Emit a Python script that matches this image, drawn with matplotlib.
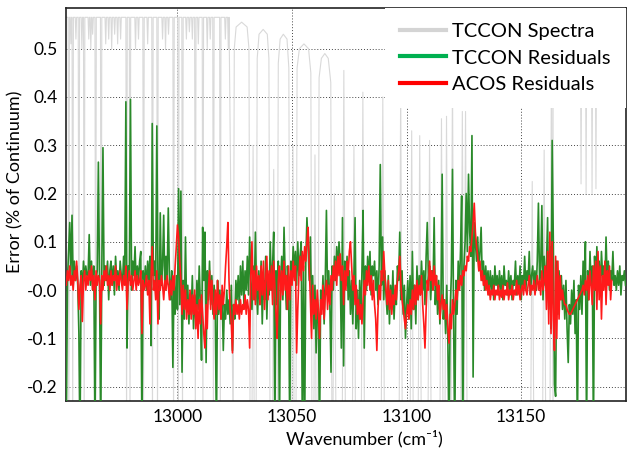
import numpy as np
import matplotlib
matplotlib.use("Agg")
import matplotlib.pyplot as plt
from matplotlib.lines import Line2D

plt.rcParams['font.family'] = ['Lato', 'DejaVu Sans']

# residuals sampled every 0.5 cm-1 from 12951.0
wn_start = 12951.0
wn_step = 0.5

green_y = [
    0.04, -0.30, 0.02, 0.08, 0.14, 0.03, 0.155, 0.01, 0.06, 0.02,
    0.05, 0.01, -0.09, -0.30, 0.04, 0.00, 0.06, 0.02, 0.05, 0.03,
    0.03, 0.115, 0.01, 0.06, 0.00, 0.05, -0.30, 0.02, 0.04, 0.265,
    0.02, -0.30, 0.04, 0.295, 0.01, 0.05, 0.02, 0.06, -0.02, 0.04,
    0.06, 0.01, 0.05, -0.01, 0.07, 0.02, 0.04, 0.00, 0.06, 0.03,
    0.01, 0.07, 0.02, 0.39, -0.12, 0.05, 0.02, 0.395, 0.00, 0.06,
    0.03, 0.09, 0.01, 0.05, 0.02, 0.06, 0.08, -0.30, 0.04, 0.01,
    0.05, 0.00, 0.06, 0.02, 0.07, -0.115, 0.345, 0.03, 0.06, 0.01,
    0.34, 0.02, -0.06, 0.16, 0.01, 0.05, 0.155, 0.00, 0.07, 0.02,
    0.17, 0.03, -0.02, 0.04, -0.16, 0.02, -0.05, 0.03, -0.04, 0.21,
    -0.03, 0.205, -0.17, 0.02, -0.06, 0.11, -0.04, 0.01, -0.07, -0.01,
    -0.05, 0.03, -0.08, -0.01, -0.06, 0.02, -0.04, 0.05, -0.03, -0.145,
    0.13, 0.02, 0.12, -0.15, 0.04, -0.02, 0.06, -0.03, 0.03, -0.05,
    0.01, -0.04, -0.30, 0.02, -0.05, 0.00, -0.06, -0.01, -0.125, -0.03,
    -0.06, 0.00, -0.05, -0.02, -0.07, 0.01, -0.125, -0.03, -0.06, 0.02,
    -0.02, 0.03, -0.04, 0.05, -0.01, 0.06, -0.03, 0.04, 0.00, 0.07,
    -0.01, 0.11, 0.02, -0.04, 0.05, -0.02, 0.12, 0.00, -0.05, 0.04,
    -0.03, 0.06, -0.07, 0.02, -0.02, 0.07, -0.06, 0.03, -0.01, 0.10,
    0.00, 0.05, 0.12, -0.30, 0.04, -0.03, 0.06, -0.30, 0.02, 0.07,
    -0.02, 0.13, 0.03, -0.04, 0.05, 0.01, -0.30, 0.06, 0.02, 0.09,
    0.04, 0.08, 0.01, 0.10, 0.03, 0.07, 0.10, -0.30, 0.05, -0.30,
    0.06, 0.15, 0.09, 0.02, 0.11, -0.04, 0.03, -0.08, 0.01, -0.13,
    -0.02, -0.06, -0.30, 0.00, -0.04, 0.03, -0.07, 0.02, 0.165, -0.01,
    0.04, -0.03, -0.17, 0.05, 0.00, 0.07, 0.02, 0.09, 0.04, 0.10,
    0.05, -0.12, 0.15, -0.157, 0.06, 0.01, 0.07, -0.02, 0.04, -0.05,
    0.02, -0.07, 0.03, 0.15, -0.08, 0.00, -0.10, 0.02, -0.06, 0.04,
    0.165, -0.12, 0.05, 0.00, 0.07, 0.02, 0.08, -0.01, 0.05, 0.03,
    0.06, 0.00, 0.04, -0.03, 0.05, 0.26, 0.01, 0.11, -0.02, 0.04,
    -0.01, -0.05, 0.03, -0.07, 0.01, -0.04, 0.04, -0.06, 0.00, -0.03,
    0.05, 0.02, 0.12, -0.02, 0.04, -0.05, 0.01, -0.10, -0.03, 0.02,
    -0.06, 0.03, -0.08, 0.08, -0.04, 0.01, -0.07, 0.05, -0.02, 0.03,
    -0.01, 0.06, 0.00, 0.04, -0.03, 0.07, 0.14, 0.02, 0.05, -0.02,
    0.04, 0.00, 0.15, -0.03, 0.03, -0.05, 0.02, -0.07, -0.02, 0.24,
    -0.06, -0.02, -0.09, 0.01, -0.11, -0.30, -0.04, 0.03, 0.25, -0.07,
    -0.30, 0.02, -0.05, 0.06, 0.00, 0.08, 0.195, -0.30, 0.05, 0.10,
    0.20, 0.08, 0.24, 0.12, 0.07, 0.32, -0.18, 0.14, 0.10, 0.06,
    0.11, 0.04, 0.08, 0.13, 0.02, 0.06, 0.00, 0.05, 0.01, 0.04,
    -0.01, 0.04, 0.00, 0.03, -0.02, 0.05, 0.01, 0.03, -0.01, 0.04,
    0.00, 0.03, -0.02, 0.05, 0.01, 0.02, -0.01, 0.04, 0.00, 0.03,
    -0.02, 0.02, 0.01, 0.06, -0.01, 0.03, 0.00, 0.05, -0.02, 0.03,
    0.01, 0.07, 0.00, 0.04, 0.02, 0.08, -0.01, 0.03, 0.05, 0.01,
    0.04, 0.00, 0.06, 0.18, 0.02, 0.05, 0.175, -0.02, 0.07, 0.01,
    0.05, 0.15, -0.04, 0.09, -0.08, 0.31, 0.10, -0.195, -0.22, 0.06,
    -0.05, 0.04, -0.02, 0.03, -0.04, 0.01, -0.06, 0.02, -0.08, -0.15,
    -0.03, -0.07, 0.00, -0.05, 0.02, -0.09, -0.02, -0.30, 0.01, -0.04,
    0.03, -0.05, 0.06, 0.00, 0.10, -0.30, 0.04, -0.02, 0.08, 0.01,
    0.05, -0.30, 0.07, 0.00, 0.09, 0.02, 0.06, -0.01, 0.08, 0.03,
    0.05, 0.01, 0.11, 0.02, 0.06, 0.00, 0.04, 0.02, 0.08, 0.01,
    0.03, 0.00, 0.04, 0.01, 0.05, -0.01, 0.03, 0.02, 0.04, 0.01,
]

red_y = [
    0.03, 0.01, 0.04, 0.02, 0.05, 0.01, 0.03, 0.00, 0.04, 0.02,
    0.06, 0.02, -0.04, 0.01, 0.03, -0.065, 0.02, 0.04, 0.00, 0.03,
    0.01, 0.04, 0.02, 0.05, 0.00, 0.03, -0.02, 0.04, 0.01, 0.03,
    0.02, -0.07, 0.03, 0.00, 0.04, 0.02, 0.05, 0.01, 0.03, 0.00,
    0.04, 0.01, 0.03, 0.02, 0.05, 0.00, 0.03, 0.01, 0.04, 0.02,
    0.00, 0.03, 0.01, 0.05, -0.04, 0.02, 0.04, 0.01, 0.03, 0.00,
    0.02, 0.04, 0.00, 0.03, 0.01, 0.02, 0.04, -0.09, 0.02, 0.00,
    0.01, 0.03, -0.01, 0.02, -0.07, 0.03, 0.09, 0.00, 0.02, -0.02,
    0.04, -0.07, 0.02, 0.00, 0.03, 0.01, -0.02, 0.02, 0.00, 0.03,
    0.01, -0.02, 0.02, -0.01, 0.03, 0.00, 0.05, 0.09, 0.135, 0.11,
    0.06, 0.02, -0.05, 0.01, -0.04, 0.00, -0.06, -0.02, -0.05, 0.00,
    -0.06, -0.01, -0.05, 0.00, -0.08, -0.03, -0.10, -0.02, -0.07, -0.01,
    -0.05, -0.09, -0.12, -0.03, -0.08, 0.00, 0.04, -0.04, 0.02, -0.03,
    -0.06, 0.00, -0.05, 0.02, -0.04, -0.01, -0.06, 0.01, -0.03, 0.00,
    0.05, 0.09, 0.14, 0.02, -0.04, -0.07, -0.13, -0.03, -0.05, -0.02,
    -0.05, -0.03, -0.06, -0.02, -0.05, -0.03, -0.04, -0.01, -0.05, -0.02,
    -0.04, -0.12, 0.03, 0.10, -0.02, 0.04, -0.03, 0.05, 0.00, 0.03,
    -0.03, 0.05, -0.01, 0.06, -0.04, 0.02, 0.07, -0.02, 0.04, 0.00,
    0.05, -0.03, 0.06, 0.01, -0.05, -0.10, 0.02, 0.05, -0.02, 0.04,
    -0.01, 0.06, 0.00, 0.03, -0.04, 0.05, -0.02, 0.04, 0.01, 0.06,
    0.02, 0.05, -0.13, -0.04, 0.03, 0.07, 0.02, 0.08, 0.04, 0.09,
    0.06, 0.10, 0.13, 0.05, -0.02, -0.10, 0.01, -0.05, -0.02, -0.06,
    0.00, -0.04, -0.10, -0.02, -0.05, 0.01, -0.06, -0.01, 0.02, -0.04,
    0.01, -0.03, 0.03, 0.00, 0.05, 0.02, 0.06, 0.01, 0.07, 0.03,
    0.075, 0.02, 0.05, -0.03, 0.04, 0.00, 0.06, 0.03, 0.08, 0.10,
    0.05, 0.00, 0.03, -0.03, 0.01, -0.05, -0.02, -0.06, -0.03, -0.07,
    -0.02, 0.02, -0.01, 0.04, 0.01, 0.05, 0.00, 0.03, -0.02, 0.02,
    -0.03, -0.06, -0.125, -0.04, 0.01, -0.02, 0.04, 0.02, 0.08, 0.03,
    0.00, -0.03, 0.02, -0.04, 0.00, -0.05, -0.01, -0.03, 0.01, -0.02,
    0.02, 0.04, 0.07, 0.01, -0.02, -0.04, -0.06, -0.08, -0.05, -0.03,
    -0.06, -0.02, -0.05, 0.00, -0.04, 0.01, -0.03, 0.02, -0.02, 0.01,
    -0.01, 0.03, -0.03, -0.07, -0.12, -0.04, 0.02, 0.00, 0.06, 0.02,
    0.04, 0.00, 0.05, 0.01, 0.03, -0.02, 0.01, -0.06, -0.03, -0.01,
    -0.04, -0.02, -0.06, -0.03, -0.08, -0.11, -0.05, -0.08, -0.02, -0.05,
    -0.03, 0.00, -0.02, 0.02, 0.00, 0.03, 0.01, 0.04, 0.03, 0.05,
    0.04, 0.07, 0.06, 0.09, 0.08, 0.11, 0.14, 0.18, 0.12, 0.09,
    0.07, 0.04, 0.06, 0.02, 0.04, 0.01, 0.03, 0.00, 0.02, -0.01,
    0.01, -0.02, 0.00, -0.01, 0.01, -0.02, 0.00, -0.01, 0.01, -0.02,
    0.00, -0.015, 0.01, -0.02, 0.00, -0.01, 0.015, -0.02, 0.00, -0.01,
    0.01, -0.02, 0.00, -0.01, 0.02, -0.01, 0.01, -0.02, 0.00, 0.01,
    -0.01, 0.02, 0.00, -0.01, 0.01, 0.03, -0.01, 0.01, 0.00, 0.02,
    -0.01, 0.01, 0.03, 0.00, 0.02, -0.01, 0.04, 0.00, 0.02, 0.05,
    -0.04, 0.08, -0.07, 0.12, -0.09, 0.10, -0.06, -0.125, 0.07, -0.10,
    0.06, -0.06, 0.03, -0.02, 0.00, -0.02, -0.03, -0.03, -0.04, -0.045,
    -0.05, -0.05, -0.045, -0.04, -0.035, -0.03, -0.025, -0.02, -0.015, -0.01,
    -0.005, 0.00, 0.01, -0.01, 0.02, 0.00, 0.03, -0.02, 0.04, 0.01,
    -0.03, 0.05, 0.00, 0.06, -0.04, 0.08, -0.02, 0.05, -0.06, 0.03,
    0.00, 0.06, -0.03, 0.04, 0.01, 0.05, -0.02, 0.02,
]

# TCCON spectrum (scaled), in four pieces
continuum = 0.565
# absorption lines on the flat continuum, low wavenumber side
comb_x = [
    12952.6, 12953.5, 12954.3, 12955.7, 12957.0, 12958.3, 12959.3, 12961.3,
    12962.2, 12963.0, 12964.3, 12966.7, 12968.7, 12970.0, 12971.3, 12972.6,
    12973.9, 12975.2, 12977.8, 12979.3, 12981.7, 12983.0, 12985.2, 12987.0,
    12989.1, 12991.3, 12993.5, 12994.8, 12996.1, 12998.3, 13000.4, 13002.2,
    13003.9, 13005.2, 13006.5, 13007.8, 13009.1, 13011.1, 13013.0, 13014.3,
    13015.7, 13018.7, 13020.9, 13022.2,
]
comb_depth = [
    -0.30, 0.51, -0.30, 0.52, -0.30, 0.50, -0.30, 0.52,
    0.50, 0.53, -0.30, -0.30, 0.51, 0.52, 0.50, 0.53,
    0.51, 0.52, -0.30, -0.30, 0.50, 0.52, -0.30, 0.51,
    -0.30, -0.30, 0.52, 0.50, 0.53, -0.30, -0.30, -0.30,
    0.52, 0.535, 0.52, -0.30, 0.51, -0.30, 0.50, 0.52,
    -0.30, -0.30, 0.52, 0.50,
]
# rounded windows between strong lines
arch_x = [
    13024.3, 13024.8, 13025.6, 13028.0, 13030.4, 13031.2, 13031.7,
    13032.5, 13033.0, 13033.5,
    13034.3, 13034.8, 13035.6, 13037.4, 13039.2, 13039.9, 13040.4,
    13041.5, 13042.0, 13042.5,
    13043.5, 13044.0, 13044.8, 13046.2, 13047.8, 13048.6, 13049.1,
    13049.9, 13050.4, 13050.9,
    13051.7, 13052.2, 13053.2, 13055.2, 13057.2, 13058.2, 13058.7,
    13059.5, 13060.0, 13060.5,
    13061.3, 13061.8, 13062.8, 13064.3, 13065.8, 13066.9, 13067.4,
]
arch_y = [
    -0.30, 0.50, 0.545, 0.555, 0.545, 0.50, -0.30,
    -0.30, 0.30, -0.30,
    -0.30, 0.48, 0.53, 0.54, 0.53, 0.48, -0.30,
    -0.30, 0.25, -0.30,
    -0.30, 0.47, 0.52, 0.53, 0.52, 0.46, -0.30,
    -0.30, 0.30, -0.30,
    -0.30, 0.46, 0.50, 0.51, 0.50, 0.45, -0.30,
    -0.30, 0.28, -0.30,
    -0.30, 0.44, 0.48, 0.49, 0.48, 0.43, -0.30,
]
# narrow transmission peaks inside the band
peak_x = [
    13068.5, 13072.6, 13077.0, 13080.9, 13089.6, 13097.4, 13102.2, 13105.7,
    13110.0, 13115.2, 13117.4, 13120.0, 13124.3, 13125.7, 13154.8, 13160.0,
    13163.2,
]
peak_h = [
    0.20, 0.455, 0.30, 0.41, 0.40, 0.42, 0.33, 0.32,
    0.31, 0.355, 0.36, 0.45, 0.37, 0.37, 0.225, 0.29,
    0.50,
]
# lines beyond the band head
tail_x = [13164.6, 13176.1, 13178.3, 13180.9, 13182.6]
tail_depth = [0.40, 0.22, 0.20, 0.20, 0.21]

y_ticks = [-0.2, -0.1, 0.0, 0.1, 0.2, 0.3, 0.4, 0.5]
y_labels = ['-0.2', '-0.1', '-0.0', '0.1', '0.2', '0.3', '0.4', '0.5']
x_ticks = [13000, 13050, 13100, 13150]

# build the spectrum polyline
line_hw = 0.3
peak_hw = 0.7
sx, sy = [12951.3], [continuum]
for c, d in zip(comb_x, comb_depth):
    sx += [c - line_hw, c, c + line_hw]
    sy += [continuum, d, continuum]
sx += arch_x
sy += arch_y
for c, h in zip(peak_x, peak_h):
    sx += [c - peak_hw, c, c + peak_hw]
    sy += [-0.30, h, -0.30]
sx += [13163.9]
sy += [continuum]
for c, d in zip(tail_x, tail_depth):
    sx += [c - line_hw, c, c + line_hw]
    sy += [continuum, d, continuum]
sx += [13195.6]
sy += [continuum]

green_x = wn_start + wn_step * np.arange(len(green_y))
red_x = wn_start + wn_step * np.arange(len(red_y))

fig = plt.figure(figsize=(6.27, 4.53), dpi=100)
ax = fig.add_axes([0.105, 0.115, 0.893, 0.867])

ax.plot(sx, sy, color='#d9d9d9', lw=0.8, zorder=2)
ax.plot(green_x, green_y, color='#2a8a2a', lw=1.2, zorder=3)
ax.plot(red_x, red_y, color='#ff1a1a', lw=1.2, zorder=4)

ax.set_xlim(12951.3, 13195.6)
ax.set_ylim(-0.2295, 0.584)
ax.set_xticks(x_ticks)
ax.set_yticks(y_ticks)
ax.set_yticklabels(y_labels)
ax.tick_params(axis='y', labelsize=12.5, length=0, pad=6)
ax.tick_params(axis='x', labelsize=12.5, length=0, pad=6)
ax.grid(True, color='#444444', linestyle=(0, (1, 2)), lw=0.7)
ax.set_axisbelow(True)
for s in ax.spines.values():
    s.set_color('#222222')
    s.set_linewidth(1.2)

ax.set_xlabel('Wavenumber (cm\u207b\u00b9)', fontsize=13)
ax.set_ylabel('Error (% of Continuum)', fontsize=13)
ax.xaxis.set_label_coords(0.534, -0.075)
ax.yaxis.set_label_coords(-0.075, 0.557)

handles = [
    Line2D([], [], color='#d4d4d4', lw=3),
    Line2D([], [], color='#00b050', lw=3),
    Line2D([], [], color='#ff0000', lw=3),
]
labels = ['TCCON Spectra', 'TCCON Residuals', 'ACOS Residuals']
leg = ax.legend(handles, labels, loc='upper right', fontsize=14.5,
                handlelength=2.3, handletextpad=0.3, labelspacing=0.45,
                borderaxespad=0.0, borderpad=0.75, fancybox=False,
                framealpha=1.0, edgecolor='none')
leg.set_zorder(10)

fig.savefig('out.png', dpi=100)
